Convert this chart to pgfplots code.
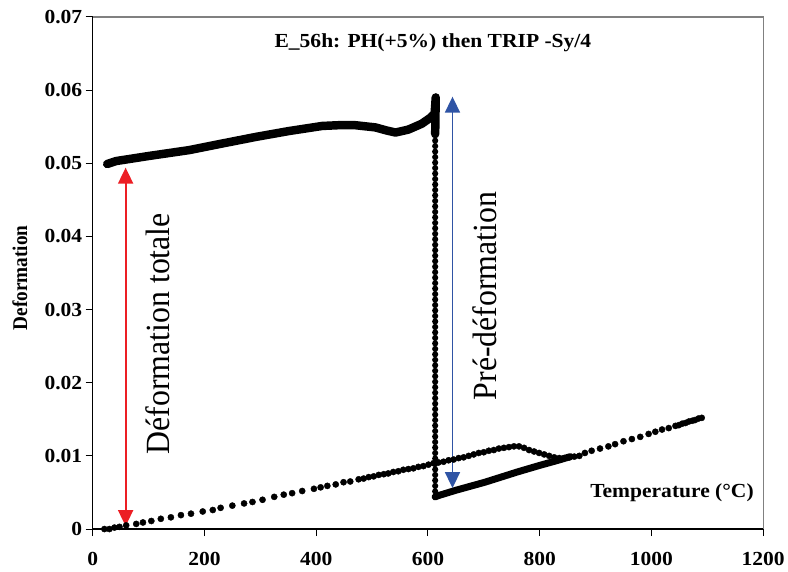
\documentclass[border=0pt]{standalone}
\usepackage{pgfplots}
\pgfplotsset{compat=1.18}
\usetikzlibrary{arrows.meta}
\usepackage{fontspec}
\setmainfont{Liberation Serif}
\newfontfamily\hb{Liberation Serif}[FakeStretch=1.08]
\newfontfamily\vb{Liberation Serif}[FakeStretch=0.92]
\newfontfamily\vr{Liberation Serif}[FakeStretch=0.94]
\definecolor{arrred}{RGB}{236,30,36}
\definecolor{arrblue}{RGB}{47,84,165}
\definecolor{framegray}{RGB}{128,128,128}
\begin{document}
\begin{tikzpicture}
\path (-93bp,-43bp) rectangle (695bp,531bp);
\begin{axis}[
  at={(0,0)}, anchor=origin,
  scale only axis, width=673bp, height=514bp,
  xmin=0, xmax=1200, ymin=0, ymax=0.07,
  scaled y ticks=false, scaled x ticks=false,
  axis lines*=left, axis line style={-, black, line width=1.2bp},
  xtick={0,200,400,600,800,1000,1200},
  xticklabels={0,200,400,600,800,1000,1200},
  ytick={0,0.01,0.02,0.03,0.04,0.05,0.06,0.07},
  yticklabels={0,0.01,0.02,0.03,0.04,0.05,0.06,0.07},
  tick align=outside, major tick length=7bp,
  tick style={black, line width=1bp},
  /pgf/number format/assume math mode=true,
  ticklabel style={font=\hb\bfseries\fontsize{20bp}{24bp}\selectfont},
  xticklabel style={yshift=-13bp},
  clip=false,
]
% heating (discrete points)
\addplot[only marks, mark=*, mark size=3.1bp, black] coordinates {
(21,0.0000) (30,0.0000) (39,0.0002) (48,0.0003) (60,0.0005) (78,0.0007) (90,0.0009)
(105,0.0011) (122,0.0014) (140,0.0016) (158,0.0019) (176,0.0021) (197,0.0024)
(215,0.0026) (229,0.0029) (250,0.0032) (271,0.0035) (286,0.0037) (304,0.0040)
(325,0.0044) (342,0.0047) (357,0.0049) (375,0.0052) (396,0.0055) (408,0.0057)
(420,0.0059) (435,0.0061) (449,0.0064) (461,0.0065) (476,0.0068) (485,0.0069)
(494,0.0071) (503,0.0072) (512,0.0074) (521,0.0075) (529,0.0076) (538,0.0078)
(547,0.0079) (556,0.0081) (565,0.0082) (574,0.0083) (583,0.0085) (592,0.0086)
(601,0.0088) (610,0.0090) (619,0.0091) (628,0.0092) (637,0.0094) (646,0.0095)
(655,0.0097) (664,0.0098) (673,0.0100) (682,0.0102) (691,0.0104) (700,0.0105)
(709,0.0107) (718,0.0108) (727,0.0110) (736,0.0111) (745,0.0112) (754,0.0113)
(763,0.0113) (772,0.0111) (781,0.0108) (790,0.0106) (799,0.0104) (808,0.0102)
(817,0.0100) (826,0.0098) (835,0.0097) (844,0.0097) (853,0.0098) (862,0.0099)
(871,0.0100) (881,0.0104) (893,0.0107) (908,0.0110) (923,0.0113) (935,0.0116)
(950,0.0120) (965,0.0123) (980,0.0126) (995,0.0130) (1007,0.0133) (1019,0.0136)
(1031,0.0138) (1043,0.0141) (1049,0.0142) (1055,0.0144) (1061,0.0145) (1067,0.0147)
(1073,0.0148) (1078,0.0149) (1084,0.0151) (1090,0.0152)
};
% cooling, austenite line
\addplot[black, line width=7bp, line cap=round, line join=round] coordinates {
(855,0.0099) (833,0.0094) (800,0.0087) (760,0.0078) (702,0.0064) (650,0.0053) (620,0.0046) (613,0.0044)
};
% pre-deformation (vertical, dotted)
\addplot[black, line width=6.2bp, line cap=round, dash pattern=on 0bp off 5.5bp] coordinates {
(613,0.0044) (613,0.0540)
};
% cooling under load
\addplot[black, line width=8.5bp, line cap=round, line join=round] coordinates {
(613,0.0540) (614,0.0590) (612,0.0568) (604,0.0562) (589,0.0554) (565,0.0546)
(542,0.0542) (525,0.0545) (506,0.0549) (470,0.0552) (440,0.0552) (411,0.0551)
(351,0.0544) (292,0.0536) (232,0.0527) (173,0.0518) (101,0.0510) (42,0.0503) (26,0.0499)
};
% arrows
\addplot[arrred, line width=1.8bp, {Triangle[width=15bp,length=16bp]}-{Triangle[width=15bp,length=16bp]}] coordinates {(59,0.0004) (59,0.0494)};
\addplot[arrblue, line width=1.8bp, {Triangle[width=15bp,length=16bp]}-{Triangle[width=15bp,length=16bp]}] coordinates {(644,0.0056) (644,0.0591)};
\draw[framegray, line width=1.2bp] (rel axis cs:0,1) -- (rel axis cs:1,1) -- (rel axis cs:1,0);
\end{axis}
\node[font=\hb\bfseries\fontsize{20bp}{24bp}\selectfont] at (341.5bp,488bp) {E\_56h: PH(+5\%) then TRIP -Sy/4};
\node[font=\hb\bfseries\fontsize{20bp}{24bp}\selectfont, anchor=east] at (667bp,36bp) {Temperature (°C)};
\node[font=\vb\bfseries\fontsize{21bp}{24bp}\selectfont, rotate=90] at (-73bp,252bp) {Deformation};
\node[font=\vr\fontsize{34bp}{38bp}\selectfont, rotate=90] at (65bp,196bp) {Déformation totale};
\node[font=\vr\fontsize{34bp}{38bp}\selectfont, rotate=90] at (394bp,234bp) {Pré-déformation};
\end{tikzpicture}
\end{document}
